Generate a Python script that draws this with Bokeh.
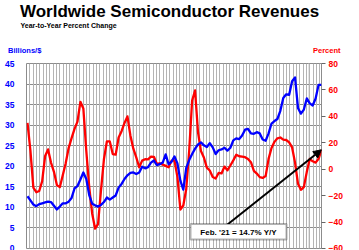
import numpy as np
from bokeh.plotting import figure
from bokeh.layouts import column
from bokeh.models import (Range1d, LinearAxis, FixedTicker, Grid, Label, Div,
                          BoxAnnotation, Arrow, NormalHead)
from bokeh.embed import file_html
from bokeh.resources import INLINE

# Quarterly observations, Feb 1996 .. Feb 2021 (decimal years)
dates = [1996 + 1 / 12 + 0.25 * i for i in range(101)]

# Three-month average sales, billions of dollars
sales_bn = [
    12.7, 11.7, 10.7, 10.3, 10.8, 11.0, 11.2, 11.4, 11.3, 10.4,
    9.5, 10.2, 11.0, 11.0, 11.4, 12.3, 14.6, 15.2, 16.8, 18.5,
    16.9, 13.0, 10.9, 10.5, 10.2, 10.6, 11.3, 12.4, 11.9, 12.4,
    12.9, 14.8, 15.7, 16.9, 17.8, 18.4, 18.5, 18.1, 18.5, 19.9,
    19.5, 19.8, 20.9, 21.4, 20.3, 20.5, 20.9, 22.9, 20.5, 21.1,
    22.4, 20.7, 16.5, 14.3, 19.6, 21.5, 23.0, 24.3, 25.3, 25.8,
    25.1, 24.7, 25.6, 24.6, 23.0, 23.9, 24.1, 24.5, 23.8, 24.5,
    26.3, 26.8, 26.6, 27.5, 28.9, 29.1, 28.0, 27.9, 28.3, 28.0,
    26.5, 26.2, 28.0, 30.4, 31.0, 31.5, 33.5, 36.6, 37.5, 37.4,
    40.7, 41.6, 34.2, 32.8, 33.8, 36.5, 35.3, 34.8, 36.5, 39.8,
    39.8,
]

# Year-over-year change, percent
yoy_pct = [
    35.0, 14.0, -14.0, -17.4, -16.5, -9.0, 10.0, 15.0, 5.0, -2.0,
    -12.0, -13.6, -4.5, 4.5, 16.0, 23.5, 30.5, 36.0, 51.0, 46.0,
    14.0, -13.5, -33.5, -45.0, -41.5, -16.0, 7.5, 21.0, 21.0, 11.5,
    11.0, 24.0, 28.8, 35.0, 40.0, 25.5, 15.5, 9.0, 1.5, 6.5,
    7.6, 7.5, 9.5, 9.4, 4.0, 4.5, 3.5, 2.5, 1.5, 6.5,
    6.6, -6.0, -30.5, -27.5, -15.0, 14.0, 52.0, 59.6, 28.0, 13.8,
    8.9, 1.2, -1.0, -5.9, -7.0, -2.8, -3.2, 2.0, -0.8, 2.8,
    6.7, 11.0, 9.8, 9.6, 9.1, 7.8, 5.3, -1.3, -3.3, -6.0,
    -6.6, -5.2, 7.8, 16.0, 20.7, 23.4, 24.0, 22.4, 22.1, 20.3,
    16.5, 5.0, -11.0, -15.6, -13.5, -2.0, 7.8, 6.0, 5.0, 7.9,
    14.7,
]

left_ticks = [0, 5, 10, 15, 20, 25, 30, 35, 40, 45]
right_ticks = [-60, -40, -20, 0, 20, 40, 60, 80]
title_text = "Worldwide Semiconductor Revenues"
subtitle_text = "Year-to-Year Percent Change"
left_unit = "Billions/$"
right_unit = "Percent"
latest_label = "Feb. '21 = 14.7% Y/Y"

BLUE = "#0000ff"
RED = "#ff0000"
GRID_H = "#8c8c8c"
GRID_V = "#b4b4b4"
FONT = "Liberation Sans"

W, H = 359, 250
HEAD_H = 58                     # heading strip height
FRAME_L, FRAME_R = 26, 321      # plot columns
FRAME_T, FRAME_B = 63, 248      # page rows of the 45 / 0 gridlines
CHART_H = H - HEAD_H

X0, X1 = 1996.0, dates[-1]

# ---- heading strip (inline svg text) --------------------------------------
def svg_text(txt, x, baseline, size, color):
    return (f'<text x="{x}" y="{baseline}" font-family="{FONT}" font-weight="bold" '
            f'font-size="{size}" fill="{color}">{txt}</text>')


head_svg = (
    f'<svg xmlns="http://www.w3.org/2000/svg" width="{W}" height="{HEAD_H}" '
    f'style="display:block">'
    + svg_text(title_text, 20, 16.7, 17, "black")
    + svg_text(subtitle_text, 20.5, 28, 7, "black")
    + svg_text(left_unit, 8, 53.3, 7.5, BLUE)
    + svg_text(right_unit, 313, 53.3, 7.5, RED)
    + '</svg>'
)
head = Div(text=head_svg, width=W, height=HEAD_H, margin=0,
           styles={"padding": "0", "margin": "0", "background": "white"})

# ---- chart -----------------------------------------------------------------
p = figure(width=W, height=CHART_H, output_backend="svg", toolbar_location=None,
           x_range=Range1d(X0, X1), y_range=Range1d(0, 45),
           x_axis_location=None, min_border_left=FRAME_L,
           min_border_right=W - FRAME_R, min_border_top=FRAME_T - HEAD_H,
           min_border_bottom=H - FRAME_B, margin=0)
p.extra_y_ranges = {"pct": Range1d(-60, 80)}
p.background_fill_color = "white"
p.border_fill_color = "white"
p.outline_line_color = GRID_H


def sx(px):
    """pixel column -> x data value"""
    return X0 + (px - FRAME_L) * (X1 - X0) / (FRAME_R - FRAME_L)


def sy(row):
    """page row -> billions-scale value"""
    return (FRAME_B - row) * 45.0 / (FRAME_B - FRAME_T)


def sy_pct(row):
    return -60 + (FRAME_B - row) * 140.0 / (FRAME_B - FRAME_T)


# horizontal rules on the billions scale
p.ygrid.ticker = FixedTicker(ticks=left_ticks)
p.ygrid.grid_line_color = GRID_H
p.ygrid.grid_line_width = 1

# dense vertical rules
vrules = [float(v) for v in np.arange(X0, X1, 0.2833)]
p.add_layout(Grid(dimension=0, ticker=FixedTicker(ticks=vrules),
                  grid_line_color=GRID_V, grid_line_width=1))

# left axis
ax = p.yaxis[0]
ax.ticker = FixedTicker(ticks=left_ticks)
ax.axis_line_color = None
ax.major_tick_line_color = None
ax.minor_tick_line_color = None
ax.major_label_standoff = 6
ax.major_label_text_color = BLUE
ax.major_label_text_font = FONT
ax.major_label_text_font_style = "bold"
ax.major_label_text_font_size = "8.5px"

# right axis
rax = LinearAxis(y_range_name="pct", ticker=FixedTicker(ticks=right_ticks))
rax.axis_line_color = None
rax.major_tick_in = 0
rax.major_tick_out = 4
rax.major_tick_line_color = "#666666"
rax.minor_tick_line_color = None
rax.major_label_standoff = 3
rax.major_label_text_color = RED
rax.major_label_text_font = FONT
rax.major_label_text_font_style = "bold"
rax.major_label_text_font_size = "8.5px"
p.add_layout(rax, "right")

# series
p.line(dates, yoy_pct, y_range_name="pct", line_color=RED, line_width=2.3,
       line_join="round")
p.line(dates, sales_bn, line_color=BLUE, line_width=2.3, line_join="round")

# callout for the latest reading
p.add_layout(Arrow(end=NormalHead(size=8, fill_color="black", line_color="black"),
                   x_start=sx(227), y_start=sy_pct(224), x_end=dates[-1],
                   y_end=yoy_pct[-1], y_range_name="pct",
                   line_color="black", line_width=2))
p.add_layout(BoxAnnotation(left=sx(190), right=sx(286), top=sy(223.5), bottom=sy(239),
                           fill_color="white", fill_alpha=1.0,
                           line_color="black", line_width=2))
p.add_layout(Label(x=sx(238), y=sy(231.5), text=latest_label,
                   text_font=FONT, text_font_style="bold", text_font_size="8px",
                   text_color="black", text_align="center", text_baseline="middle"))

layout = column(head, p, spacing=0, margin=0)
open("out.html", "w").write(file_html(layout, INLINE))
